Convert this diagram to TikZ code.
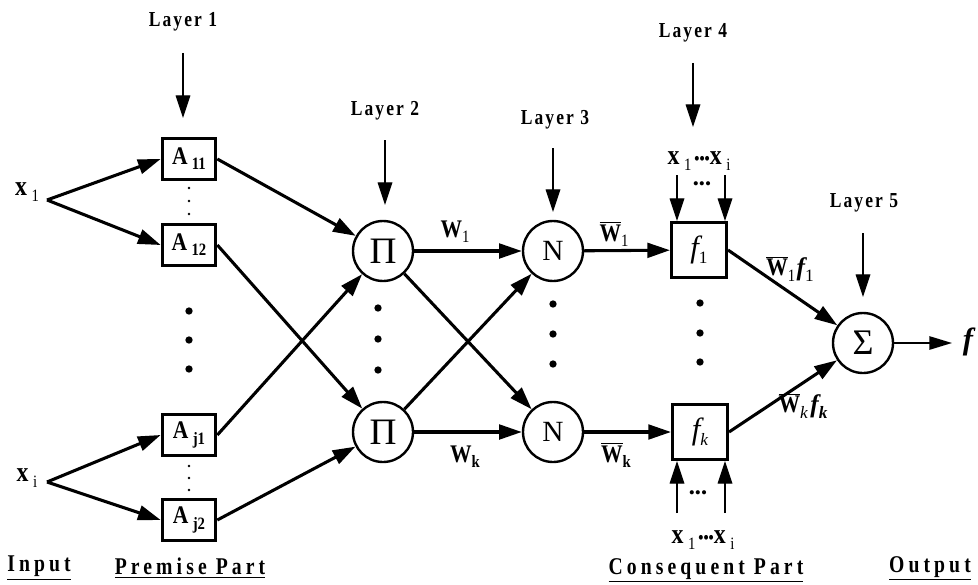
\documentclass[tikz,border=0pt]{standalone}
\usepackage{fontspec}
\setmainfont{Liberation Serif}
\newfontfamily\cond{Liberation Serif}[FakeStretch=0.85]
\newfontfamily\spacedfont{Liberation Serif}[FakeStretch=0.82,LetterSpace=10]
\newfontfamily\widefont{Liberation Serif}[FakeStretch=0.82,LetterSpace=17]
\usetikzlibrary{arrows.meta}
\newcommand\sbs[1]{\raisebox{-0.45ex}{\fontsize{13}{14}\selectfont #1}}
\newcommand\barW{$\overline{\hbox{\cond\bfseries W}}$}
\begin{document}
\begin{tikzpicture}[x=0.75pt,y=-0.75pt,
  conn/.style={line width=2.3pt,-{Triangle[length=17pt,width=11pt]}},
  thinarrow/.style={line width=0.9pt,-{Triangle[length=17pt,width=11pt]}},
  abox/.style={draw,line width=2.5pt,minimum width=40pt,minimum height=31pt,inner sep=0pt,font=\cond\bfseries\fontsize{19}{20}\selectfont},
  fnbox/.style={draw,line width=2.5pt,minimum size=41pt,inner sep=0pt,font=\fontsize{23}{24}\selectfont\itshape},
  nd/.style={draw,circle,line width=1.8pt,minimum size=45pt,inner sep=0pt},
  layer/.style={font=\spacedfont\bfseries\fontsize{16}{17}\selectfont},
  part/.style={font=\widefont\bfseries\fontsize{18}{19}\selectfont},
  lbl/.style={font=\cond\bfseries\fontsize{19}{20}\selectfont},
  xlbl/.style={font=\cond\bfseries\fontsize{21}{22}\selectfont},
  sdot/.style={circle,fill,inner sep=0pt,minimum size=2.2pt},
  bdot/.style={circle,fill,inner sep=0pt,minimum size=5.5pt}
]
\useasboundingbox (0,0) rectangle (978,585);

% premise boxes
\node[abox] (A11) at (189,159) {A\,\sbs{11}};
\node[abox] (A12) at (189,245) {A\,\sbs{12}};
\node[abox] (Aj1) at (189,435) {A\,\sbs{j1}};
\node[abox] (Aj2) at (189,520) {A\,\sbs{j2}};

% inputs
\coordinate (X1) at (47,200);
\coordinate (Xi) at (47,482);
\node[xlbl] (x1l) at (27,192) {x\,\sbs{\mdseries 1}};
\node[xlbl] (xil) at (27,478) {x\,\sbs{\mdseries i}};
\draw[conn] (X1) -- (A11.west);
\draw[conn] (X1) -- (A12.west);
\draw[conn] (Xi) -- (Aj1.west);
\draw[conn] (Xi) -- (Aj2.west);

% small dots
\foreach \y in {188,201,214} \node[sdot] at (189,\y) {};
\foreach \y in {466,478,490} \node[sdot] at (189,\y) {};
% big dots
\foreach \y in {311,340,369} \node[bdot] at (189,\y) {};
\foreach \y in {308,339,370} \node[bdot] at (378,\y) {};
\foreach \y in {304,334,364} \node[bdot] at (553,\y) {};
\foreach \y in {303,333,362} \node[bdot] at (700,\y) {};

% layer 2 and 3
\node[nd,font=\fontsize{28}{29}\selectfont] (P1) at (383,251) {Π};
\node[nd,font=\fontsize{28}{29}\selectfont] (Pk) at (383,432) {Π};
\node[nd,font=\fontsize{22}{23}\selectfont] (N1) at (553,251) {N};
\node[nd,font=\fontsize{22}{23}\selectfont] (Nk) at (553,432) {N};

\draw[conn] (A11.east) -- (P1);
\draw[conn] (Aj1.east) -- (P1);
\draw[conn] (A12.east) -- (Pk);
\draw[conn] (Aj2.east) -- (Pk);

\draw[conn] (P1) -- (N1);
\draw[conn] (P1) -- (Nk);
\draw[conn] (Pk) -- (N1);
\draw[conn] (Pk) -- (Nk);

\node[lbl] (w1) at (455,232) {W\sbs{\mdseries 1}};
\node[lbl] (wk) at (465,457) {W\sbs{k}};
\node[lbl] (wb1) at (614,234) {\barW\sbs{\mdseries 1}};
\node[lbl] (wbk) at (616,455) {\barW\sbs{k}};

% layer 4
\node[fnbox] (F1) at (699,250) {f\sbs{\upshape 1}};
\node[fnbox] (Fk) at (700,432) {f\sbs{k}};
\draw[conn] (N1) -- (F1);
\draw[conn] (Nk) -- (Fk);

\node[xlbl] (xt) at (699,161) {x\,\sbs{\mdseries 1}\fontsize{13}{14}\selectfont\,•••\fontsize{21}{22}\selectfont x\,\sbs{\mdseries i}};
\node[font=\fontsize{13}{14}\selectfont] (dt) at (702,186) {•••};
\coordinate (ta) at (677,175);
\coordinate (tb) at (725,175);
\draw[thinarrow] (ta) -- (ta |- F1.north);
\draw[thinarrow] (tb) -- (tb |- F1.north);

\node[xlbl] (xb) at (703,540) {x\,\sbs{\mdseries 1}\fontsize{13}{14}\selectfont\,•••\fontsize{21}{22}\selectfont x\,\sbs{\mdseries i}};
\node[font=\fontsize{13}{14}\selectfont] (db) at (698,495) {•••};
\coordinate (ba) at (677,513);
\coordinate (bb) at (725,513);
\draw[thinarrow] (ba) -- (ba |- Fk.south);
\draw[thinarrow] (bb) -- (bb |- Fk.south);

% layer 5
\node[nd,font=\fontsize{27}{28}\selectfont] (S) at (863,343) {Σ};
\draw[conn] (F1.east) -- (S);
\draw[conn] (Fk.east) -- (S);
\node[font=\fontsize{23}{24}\selectfont\bfseries\itshape] (fo) at (968,342) {f};
\coordinate (fa) at (952,343);
\draw[line width=1.3pt,-{Triangle[length=17pt,width=10pt]}] (S) -- (fa);

\node[lbl] (wf1) at (790,269) {\barW\sbs{\mdseries 1}\kern1pt\normalfont\bfseries\itshape f\sbs{\upshape\mdseries 1}};
\node[lbl] (wfk) at (803,406) {\barW\sbs{\normalfont\itshape k}\kern2pt\normalfont\bfseries\itshape f\sbs{\itshape k}};

% layer labels and arrows
\node[layer] (L1) at (183,22) {Layer 1};
\node[layer] (L2) at (385,111) {Layer 2};
\node[layer] (L3) at (555,120) {Layer 3};
\node[layer] (L4) at (693,33) {Layer 4};
\node[layer] (L5) at (864,203) {Layer 5};
\coordinate (L1a) at (183,53);  \coordinate (L1b) at (183,118);
\coordinate (L2a) at (385,140); \coordinate (L2b) at (385,205);
\coordinate (L3a) at (553,148); \coordinate (L3b) at (553,212);
\coordinate (L4a) at (693,63);  \coordinate (L4b) at (693,127);
\coordinate (L5a) at (863,233); \coordinate (L5b) at (863,297);
\draw[thinarrow] (L1a) -- (L1b);
\draw[thinarrow] (L2a) -- (L2b);
\draw[thinarrow] (L3a) -- (L3b);
\draw[thinarrow] (L4a) -- (L4b);
\draw[thinarrow] (L5a) -- (L5b);

% bottom labels
\node[part] (inp) at (39,568) {\underline{Input}};
\node[part] (pre) at (190,568) {\underline{Premise Part}};
\node[part] (con) at (706,570) {\underline{Consequent Part}};
\node[part] (out) at (930,568) {\underline{Output}};
\end{tikzpicture}
\end{document}
